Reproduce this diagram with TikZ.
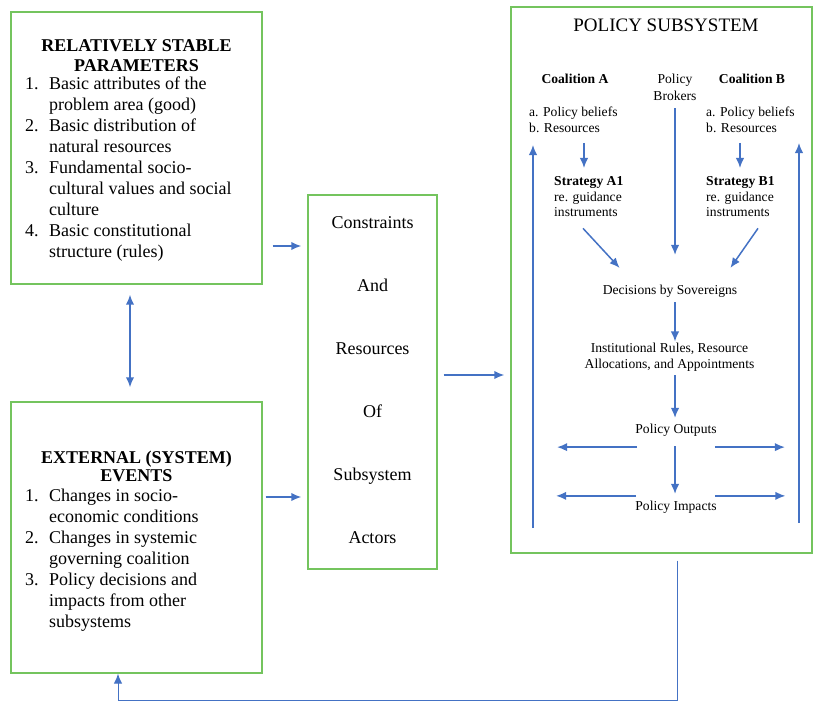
\documentclass[tikz,border=0pt]{standalone}
\usepackage{fontspec}
\setmainfont{Liberation Serif}
\usetikzlibrary{arrows.meta,calc}
\definecolor{boxgreen}{RGB}{116,196,94}
\definecolor{arrblue}{RGB}{68,114,196}
\newcommand{\bigtext}{\fontsize{18}{21}\selectfont}
\newcommand{\smalltext}{\fontsize{13.6}{15.5}\selectfont}

\begin{document}
\begin{tikzpicture}[x=1pt,y=-1pt,>={Latex[length=10pt,width=8.5pt]},
  box/.style={draw=boxgreen,line width=1.4pt,inner sep=0pt},
  txt/.style={inner sep=0pt,font=\bigtext},
  small/.style={inner sep=0pt,font=\smalltext},
  arr/.style={->,draw=arrblue,line width=1.5pt}]
\useasboundingbox (0,0) rectangle (814,704);

\node[box,minimum width=251pt,minimum height=272pt](stable) at (136.5,148) {};
\node[box,minimum width=251pt,minimum height=271pt](external) at (136.5,537.5) {};
\node[box,minimum width=129pt,minimum height=374pt,font=\bigtext](constr) at (372.5,382)
  {\begin{tabular}{@{}c@{}}Constraints\\[42pt]And\\[42pt]Resources\\[42pt]Of\\[42pt]Subsystem\\[42pt]Actors\end{tabular}};
\node[box,minimum width=301pt,minimum height=546pt](policy) at (661.5,280) {};

\node[txt,anchor=base,font=\bigtext\bfseries](stabletitle) at (136.5,51)
  {\begin{tabular}[t]{@{}c@{}}RELATIVELY STABLE\\[-1pt]PARAMETERS\end{tabular}};
\node[txt,anchor=base west](stablelist) at (25,89)
  {\begin{tabular}[t]{@{}l@{\hspace{10.5pt}}l@{}}
  1. & Basic attributes of the\\
     & problem area (good)\\
  2. & Basic distribution of\\
     & natural resources\\
  3. & Fundamental socio-\\
     & cultural values and social\\
     & culture\\
  4. & Basic constitutional\\
     & structure (rules)
  \end{tabular}};

\node[txt,anchor=base,font=\bigtext\bfseries](exttitle) at (136.5,463)
  {\begin{tabular}[t]{@{}c@{}}EXTERNAL (SYSTEM)\\[-3pt]EVENTS\end{tabular}};
\node[txt,anchor=base west](extlist) at (25,501)
  {\begin{tabular}[t]{@{}l@{\hspace{10.5pt}}l@{}}
  1. & Changes in socio-\\
     & economic conditions\\
  2. & Changes in systemic\\
     & governing coalition\\
  3. & Policy decisions and\\
     & impacts from other\\
     & subsystems
  \end{tabular}};

% inside the policy subsystem
\node[anchor=base,inner sep=0pt,font=\fontsize{19}{22}\selectfont](policytitle) at (666,31) {POLICY SUBSYSTEM};
\node[small,anchor=base,font=\smalltext\bfseries](coalA) at (575,83.5) {Coalition A};
\node[small,anchor=base](brokers) at (675,83.5) {\begin{tabular}[t]{@{}c@{}}Policy\\[1.5pt]Brokers\end{tabular}};
\node[small,anchor=base,font=\smalltext\bfseries](coalB) at (752,83.5) {Coalition B};
\node[small,anchor=base west](beliefsA) at (529,116.5) {\begin{tabular}[t]{@{}l@{}}a. Policy beliefs\\b. Resources\end{tabular}};
\node[small,anchor=base west](beliefsB) at (706,116.5) {\begin{tabular}[t]{@{}l@{}}a. Policy beliefs\\b. Resources\end{tabular}};
\node[small,anchor=base west](stratA) at (554,185.5) {\begin{tabular}[t]{@{}l@{}}\textbf{Strategy A1}\\re. guidance\\instruments\end{tabular}};
\node[small,anchor=base west](stratB) at (706,185.5) {\begin{tabular}[t]{@{}l@{}}\textbf{Strategy B1}\\re. guidance\\instruments\end{tabular}};
\node[small,anchor=base](decide) at (670,294.5) {Decisions by Sovereigns};
\node[small,anchor=base](inst) at (669.5,352.5) {\begin{tabular}[t]{@{}c@{}}Institutional Rules, Resource\\[0.5pt]Allocations, and Appointments\end{tabular}};
\node[small,anchor=base](outputs) at (676,433.5) {Policy Outputs};
\node[small,anchor=base](impacts) at (676,510.5) {Policy Impacts};

\coordinate (spine) at (675,0);
\coordinate (colA) at (584,0);
\coordinate (colB) at (740,0);
\coordinate (loopL) at (533,528);
\coordinate (loopR) at (799,523);

\draw[arr,shorten <=6pt,shorten >=6.5pt](beliefsA.south -| colA) -- (stratA.north -| colA);
\draw[arr,shorten <=6pt,shorten >=6.5pt](beliefsB.south -| colB) -- (stratB.north -| colB);
\draw[arr,shorten <=3pt,shorten >=30pt](brokers.south -| spine) -- (decide.north -| spine);
\draw[arr]($(stratA.south -| colA)+(-1,7)$) -- ($(decide.north west)+(17,-17)$);
\draw[arr]($(stratB.south -| colB)+(18,7)$) -- ($(decide.north east)+(-7,-17)$);
\draw[arr,shorten <=4.5pt](decide.south -| spine) -- (inst.north -| spine);
\draw[arr,shorten <=2pt,shorten >=6pt](inst.south -| spine) -- (outputs.north -| spine);
\draw[arr,shorten <=9.5pt,shorten >=7pt](outputs.south -| spine) -- (impacts.north -| spine);
\draw[arr]($(outputs.south west)+(2,10.5)$) -- ++(-80,0);
\draw[arr]($(outputs.south east)+(-2,10.5)$) -- ++(70,0);
\draw[arr]($(impacts.north west)+(1,-5)$) -- ++(-80,0);
\draw[arr]($(impacts.north east)+(-1.5,-5)$) -- ++(70,0);
\draw[arr](loopL) -- ++(0,-383);
\draw[arr](loopR) -- ++(0,-380);

% between the boxes
\coordinate (fromstable) at ($(stable.east)+(10,98)$);
\coordinate (fromext) at ($(external.east)+(3,-40.5)$);
\coordinate (fromconstr) at ($(constr.east)+(6,-7)$);
\coordinate (link) at ($(stable.south)+(-6.5,0)$);
\coordinate (back) at ($(external.south)+(-18.5,0)$);
\draw[arr,shorten >=6pt](fromstable) -- (fromstable -| constr.west);
\draw[arr,shorten >=6pt](fromext) -- (fromext -| constr.west);
\draw[arr,shorten >=6pt](fromconstr) -- (fromconstr -| policy.west);
\draw[arr,<->,shorten <=10pt,shorten >=14pt](link) -- (link |- external.north);
\draw[arr,line width=1pt]($(policy.south)+(15.5,7)$) |- ($(back)+(0,27)$) -- (back);
\end{tikzpicture}
\end{document}
